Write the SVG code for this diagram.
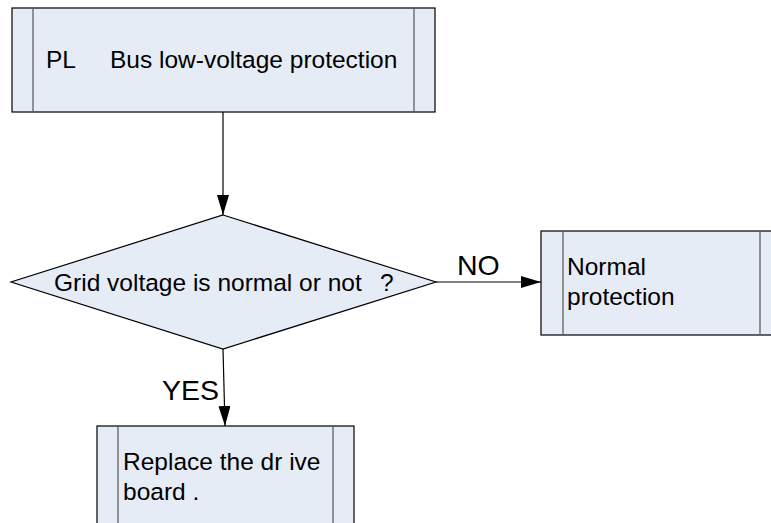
<svg xmlns="http://www.w3.org/2000/svg" width="771" height="523" viewBox="0 0 771 523">
<style>
.box{fill:#e6ecf6;stroke:#000;stroke-width:1.2}
.inner{stroke:#555;stroke-width:1.2}
.t{font-family:"Liberation Sans",Arial,sans-serif;font-size:24.5px;fill:#000}
.lbl{font-family:"Liberation Sans",Arial,sans-serif;font-size:28.5px;fill:#000}
.c{stroke:#000;stroke-width:1.2;fill:none}
</style>
<defs>
<marker id="ah" viewBox="0 0 20 12" refX="20" refY="6" markerWidth="20" markerHeight="12" markerUnits="userSpaceOnUse" orient="auto">
<path d="M0,0 L20,6 L0,12 Z" fill="#000"/>
</marker>
</defs>
<rect width="771" height="523" fill="#fff"/>
<g id="connectors">
<line class="c" x1="223" y1="112" x2="223" y2="215" marker-end="url(#ah)"/>
<line class="c" x1="436" y1="282" x2="541" y2="282" marker-end="url(#ah)"/>
<line class="c" x1="223" y1="349" x2="225" y2="426" marker-end="url(#ah)"/>
<text class="lbl" x="457" y="275">NO</text>
<text class="lbl" x="162" y="400">YES</text>
</g>
<g id="start">
<rect class="box" x="12" y="8" width="423" height="104"/>
<line class="inner" x1="33" y1="8" x2="33" y2="112"/>
<line class="inner" x1="414" y1="8" x2="414" y2="112"/>
<text class="t" x="46" y="68">PL</text>
<text class="t" x="110" y="68">Bus low-voltage protection</text>
</g>
<g id="decision">
<polygon class="box" points="223,215 436,282 223,349 11,282"/>
<text class="t" x="54" y="291">Grid voltage is normal or not</text>
<text class="t" x="380" y="291">?</text>
</g>
<g id="normal">
<rect class="box" x="541" y="231" width="245" height="104"/>
<line class="inner" x1="563" y1="231" x2="563" y2="335"/>
<line class="inner" x1="760" y1="231" x2="760" y2="335"/>
<text class="t" x="567" y="275">Normal</text>
<text class="t" x="567" y="305">protection</text>
</g>
<g id="replace">
<rect class="box" x="97" y="426" width="257" height="110"/>
<line class="inner" x1="118" y1="426" x2="118" y2="536"/>
<line class="inner" x1="333" y1="426" x2="333" y2="536"/>
<text class="t" x="123" y="470">Replace the dr ive</text>
<text class="t" x="123" y="500">board .</text>
</g>
</svg>
